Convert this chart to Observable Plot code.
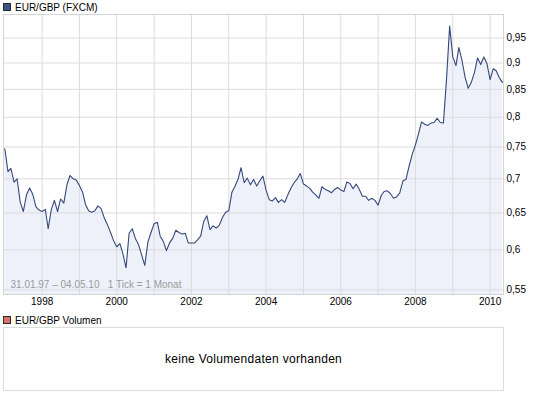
<!DOCTYPE html>
<html>
<head>
<meta charset="utf-8">
<script src="https://cdn.jsdelivr.net/npm/d3@7"></script>
<script src="https://cdn.jsdelivr.net/npm/@observablehq/plot@0.6"></script>
<style>
  html, body { margin: 0; padding: 0; background: #fff; }
  #wrap { position: relative; width: 545px; height: 395px; overflow: hidden; font-family: "Liberation Sans", Arial, sans-serif; color: #000; }
  .leg { position: absolute; left: 3px; height: 12px; display: flex; align-items: center; font-size: 10px; white-space: nowrap; }
  .sq { width: 6px; height: 6px; border: 1px solid #2a2a2a; margin-right: 4px; }
  #chart { position: absolute; left: 0; top: 13px; }
  #vol { position: absolute; left: 3px; top: 327px; width: 501px; height: 64px; box-sizing: border-box; border: 1px solid #dcdcdc;
         display: flex; align-items: center; justify-content: center; font-size: 12px; letter-spacing: 0.3px; }
</style>
</head>
<body>
<div id="wrap">
  <div class="leg" style="top:1px"><div class="sq" style="background:#3f5486"></div><span id="title1"></span></div>
  <div id="chart"></div>
  <div class="leg" style="top:314px"><div class="sq" style="background:#d8706b"></div><span id="title2"></span></div>
  <div id="vol"></div>
</div>
<script>
// ---- data (monthly closes) ----
const seriesName = "EUR/GBP (FXCM)";
const volumeName = "EUR/GBP Volumen";
const volumeMessage = "keine Volumendaten vorhanden";
const rangeLabel = "31.01.97 \u2013 04.05.10   1 Tick = 1 Monat";

const v1997 = [0.747,0.711,0.716,0.695,0.700,0.665,0.652,0.676,0.686,0.677,0.659,0.654];
const v1998 = [0.652,0.655,0.628,0.655,0.668,0.652,0.670,0.664,0.691,0.705,0.700,0.698];
const v1999 = [0.690,0.680,0.662,0.653,0.651,0.653,0.660,0.656,0.643,0.634,0.623,0.612];
const v2000 = [0.604,0.608,0.595,0.577,0.622,0.628,0.615,0.607,0.593,0.580,0.610,0.623];
const v2001 = [0.635,0.637,0.618,0.611,0.599,0.609,0.615,0.626,0.623,0.621,0.622,0.609];
const v2002 = [0.609,0.609,0.613,0.618,0.638,0.646,0.627,0.632,0.629,0.633,0.644,0.651];
const v2003 = [0.653,0.680,0.688,0.699,0.717,0.694,0.701,0.691,0.699,0.689,0.697,0.704];
const v2004 = [0.683,0.669,0.667,0.672,0.665,0.669,0.665,0.676,0.686,0.694,0.700,0.708];
const v2005 = [0.692,0.689,0.686,0.680,0.676,0.671,0.688,0.684,0.682,0.679,0.684,0.687];
const v2006 = [0.683,0.681,0.695,0.693,0.685,0.692,0.684,0.674,0.674,0.668,0.671,0.668];
const v2007 = [0.661,0.675,0.681,0.682,0.678,0.671,0.673,0.679,0.697,0.699,0.720,0.738];
const v2008 = [0.753,0.772,0.792,0.788,0.786,0.790,0.791,0.798,0.791,0.790,0.870,0.975];
const v2009 = [0.912,0.895,0.931,0.905,0.873,0.852,0.863,0.882,0.910,0.897,0.912,0.899];
const v2010 = [0.868,0.889,0.885,0.872,0.863];

const yTicks = [0.55,0.6,0.65,0.7,0.75,0.8,0.85,0.9,0.95];
const gridYears = [1998,1999,2000,2001,2002,2003,2004,2005,2006,2007,2008,2009,2010];
const labelYears = [1998,2000,2002,2004,2006,2008,2010];

// ---- build table ----
const values = [v1997,v1998,v1999,v2000,v2001,v2002,v2003,v2004,v2005,v2006,v2007,v2008,v2009,v2010].flat();
const dates = d3.utcMonth.range(new Date(Date.UTC(1997,0,1)), new Date(Date.UTC(2010,5,1)));
const data = dates.map((d, i) => ({date: d, value: values[i]}));
const yMin = 0.5445, yMax = 1.0;
const jan = y => new Date(Date.UTC(y, 0, 1));

document.getElementById("title1").textContent = seriesName;
document.getElementById("title2").textContent = volumeName;
document.getElementById("vol").textContent = volumeMessage;

const chart = Plot.plot({
  width: 545,
  height: 297,
  marginTop: 1,
  marginBottom: 16,
  marginLeft: 3,
  marginRight: 42,
  style: {fontFamily: "'Liberation Sans', Arial, sans-serif", fontSize: "10px", background: "transparent", color: "#000"},
  x: {type: "utc", domain: [new Date(Date.UTC(1996,11,19)), new Date(Date.UTC(2010,4,12))], label: null},
  y: {type: "log", domain: [yMin, yMax], label: null},
  marks: [
    Plot.areaY(data, {x: "date", y1: yMin, y2: "value", fill: "#eef1f9"}),
    Plot.gridX(gridYears.map(jan), {stroke: "#dcdcdc", strokeOpacity: 1}),
    Plot.gridY(yTicks, {stroke: "#dcdcdc", strokeOpacity: 1}),
    Plot.frame({stroke: "#d4d4d4"}),
    Plot.lineY(data, {x: "date", y: "value", stroke: "#34497a", strokeWidth: 1.1}),
    Plot.axisX(labelYears.map(jan), {tickSize: 0, tickPadding: 3, tickFormat: d3.utcFormat("%Y"), label: null}),
    Plot.axisY(yTicks, {anchor: "right", tickSize: 0, tickPadding: 3, tickFormat: d => String(d).replace(".", ","), label: null}),
    Plot.text([rangeLabel], {text: d => d, frameAnchor: "bottom-left", textAnchor: "start", dx: 7, dy: -7, fill: "#9a9a9a"})
  ]
});
document.getElementById("chart").append(chart);
</script>
</body>
</html>
